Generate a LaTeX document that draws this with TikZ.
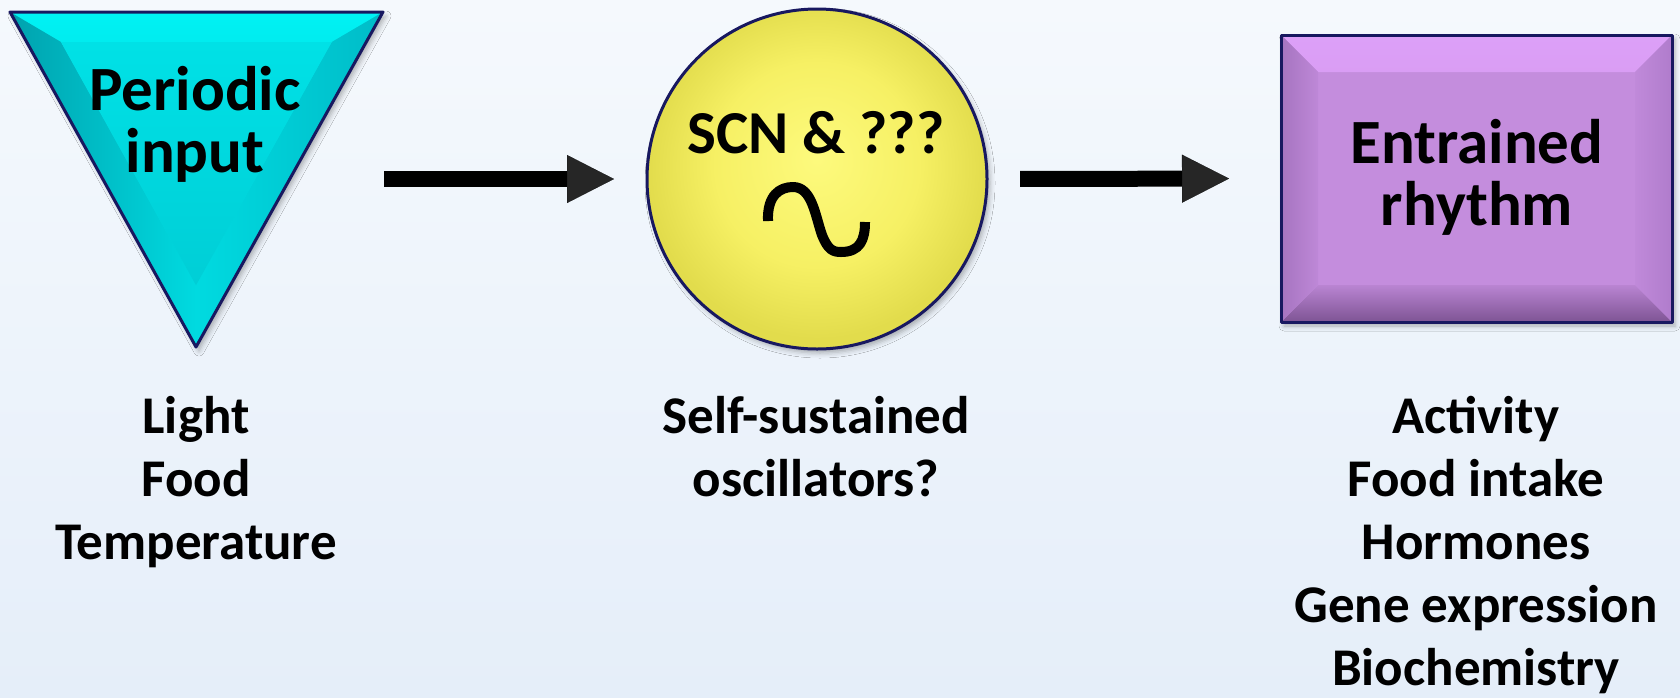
\documentclass[tikz,border=0pt]{standalone}
\usepackage{fontspec}
\setmainfont{Carlito}
\usetikzlibrary{arrows.meta,calc,shadows.blur}

\definecolor{bgtop}{RGB}{245,249,253}
\definecolor{bgbot}{RGB}{229,238,249}
\definecolor{navy}{RGB}{24,24,96}
\definecolor{cyanTop}{RGB}{0,242,244}
\definecolor{cyanFace}{RGB}{0,218,224}
\definecolor{cyanFaceB}{RGB}{0,206,214}
\definecolor{cyanL}{RGB}{0,162,174}
\definecolor{cyanR}{RGB}{0,188,200}
\definecolor{yl1}{RGB}{253,250,125}
\definecolor{yl2}{RGB}{246,240,100}
\definecolor{yl3}{RGB}{226,220,76}
\definecolor{pFace}{RGB}{196,141,221}
\definecolor{pTop}{RGB}{221,160,248}
\definecolor{pLeft}{RGB}{166,116,192}
\definecolor{pRight}{RGB}{176,124,204}
\definecolor{pBot}{RGB}{126,84,148}

% soft radial fill for the oscillator ball
\pgfdeclareradialshading{ball}{\pgfpoint{0bp}{3bp}}{color(0bp)=(yl1); color(15bp)=(yl2); color(25bp)=(yl3); color(50bp)=(yl3)}

\begin{document}
\begin{tikzpicture}[x=1pt,y=-1pt,
  outline/.style={draw=navy, line width=3pt, line join=round},
  bigarrow/.style={line width=16pt, -{Triangle[length=47pt,width=48pt,line width=0.1pt]}},
  inner/.style={font=\fontsize{63}{62}\selectfont\bfseries, align=center, inner sep=0pt},
  lab/.style={font=\fontsize{53}{63}\selectfont\bfseries, align=center, inner sep=0pt},
  soft/.style={blur shadow={shadow xshift=3pt, shadow yshift=-4pt, shadow opacity=30, shadow blur radius=5pt}}
]
% canvas
\useasboundingbox (0,0) rectangle (1680,697);
\shade[top color=bgtop, bottom color=bgbot] (0,0) rectangle (1680,697);

% ---- periodic input: bevelled triangle ----
\coordinate (tA) at (10,12);
\coordinate (tB) at (383,12);
\coordinate (tC) at (196,347);
\coordinate (tI) at (196,121.6);
\coordinate (tA2) at ($(tI)!0.726!(tA)$);
\coordinate (tB2) at ($(tI)!0.726!(tB)$);
\coordinate (tC2) at ($(tI)!0.726!(tC)$);
\fill[cyanFace, soft] (tA) -- (tB) -- (tC) -- cycle;
\shade[top color=cyanTop, bottom color=cyanTop!75!cyanFace] (tA) -- (tB) -- (tB2) -- (tA2) -- cycle;
\shade[left color=cyanL, right color=cyanFace] (tA) -- (tA2) -- (tC2) -- (tC) -- cycle;
\shade[left color=cyanFace, right color=cyanR] (tB) -- (tC) -- (tC2) -- (tB2) -- cycle;
\shade[top color=cyanFace!70!cyanTop, bottom color=cyanFaceB] (tA2) -- (tB2) -- (tC2) -- cycle;
\draw[outline] (tA) -- (tB) -- (tC) -- cycle;
% base anchor sits on the last line
\node[inner, anchor=base] (tri-txt) at (195,172) {Periodic\\input};
\coordinate (feed) at (384,179);

% ---- oscillator ball ----
\node[circle, minimum size=340pt, inner sep=0pt, outer sep=0pt, shading=ball,
      draw=navy, line width=3pt, soft] (osc) at (817,179) {};
\node[font=\fontsize{61}{61}\selectfont\bfseries, inner sep=0pt, anchor=base] (osc-txt) at (816,153) {SCN \& ???};
\draw[line width=10pt, line join=round, line cap=butt]
  (768,221) .. controls (767,195) and (780,187) .. (793,187)
  .. controls (812,187) and (815,215) .. (822,235)
  .. controls (828,250) and (833,252) .. (841,252)
  .. controls (860,252) and (865,240) .. (865,222);

% ---- entrained rhythm: bevelled box ----
\node[minimum width=391pt, minimum height=287pt, inner sep=0pt, outer sep=0pt,
      fill=pFace, soft] (rhythm) at (1476.5,178.5) {};
\coordinate (bNW) at (rhythm.north west);
\coordinate (bNE) at (rhythm.north east);
\coordinate (bSE) at (rhythm.south east);
\coordinate (bSW) at (rhythm.south west);
\coordinate (iNW) at ($(bNW)+(37,37)$);
\coordinate (iNE) at ($(bNE)+(-37,37)$);
\coordinate (iSE) at ($(bSE)+(-37,-37)$);
\coordinate (iSW) at ($(bSW)+(37,-37)$);
\shade[top color=pTop, bottom color=pTop!85!pFace] (bNW) -- (bNE) -- (iNE) -- (iNW) -- cycle;
\shade[top color=pFace!85!pBot, bottom color=pBot] (bSW) -- (iSW) -- (iSE) -- (bSE) -- cycle;
\shade[left color=pLeft, right color=pFace!80!pLeft] (bNW) -- (iNW) -- (iSW) -- (bSW) -- cycle;
\shade[left color=pFace!80!pRight, right color=pRight] (bNE) -- (bSE) -- (iSE) -- (iNE) -- cycle;
\draw[outline] (bNW) rectangle (bSE);
\node[inner, anchor=base] (rhythm-txt) at (1477,225) {Entrained\\rhythm};

% ---- connectors ----
\draw[bigarrow, shorten >=33pt] (feed) -- (osc.west);
\draw[bigarrow, shorten <=33pt, shorten >=52pt] (osc.east) -- (rhythm.west);

% ---- captions (anchored on their last lines) ----
\node[lab, anchor=base] (tri-lab) at (196,559) {Light\\Food\\Temperature};
\node[lab, anchor=base] (osc-lab) at (816,496) {Self-sustained\\oscillators?};
\node[lab, anchor=base] (rhythm-lab) at (1476,685) {Activity\\Food intake\\Hormones\\Gene expression\\Biochemistry};
\end{tikzpicture}
\end{document}
